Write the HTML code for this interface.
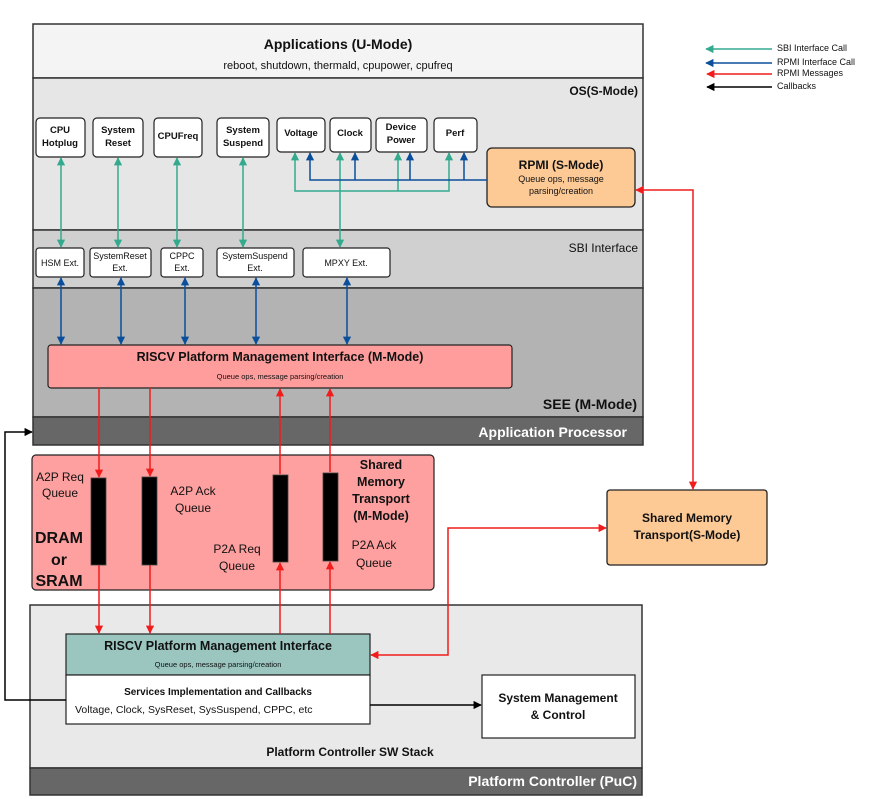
<!DOCTYPE html>
<html><head><meta charset="utf-8"><style>
html,body{margin:0;padding:0;background:#fff}
svg{display:block}
text{font-family:"Liberation Sans",sans-serif;fill:#111}
.b{font-weight:bold}
</style></head><body>
<svg width="871" height="799" viewBox="0 0 871 799" xmlns="http://www.w3.org/2000/svg">
<defs>
<marker id="tg" viewBox="0 0 10 10" refX="9" refY="5" markerWidth="6" markerHeight="5.5" orient="auto-start-reverse"><path d="M0,0L10,5L0,10z" fill="#33aa8e"/></marker>
<marker id="bl" viewBox="0 0 10 10" refX="9" refY="5" markerWidth="6" markerHeight="5.5" orient="auto-start-reverse"><path d="M0,0L10,5L0,10z" fill="#0b4f9c"/></marker>
<marker id="rd" viewBox="0 0 10 10" refX="9" refY="5" markerWidth="6" markerHeight="5.5" orient="auto-start-reverse"><path d="M0,0L10,5L0,10z" fill="#f21c1c"/></marker>
<marker id="bk" viewBox="0 0 10 10" refX="9" refY="5" markerWidth="6" markerHeight="5.5" orient="auto-start-reverse"><path d="M0,0L10,5L0,10z" fill="#000"/></marker>
</defs>

<rect x="33" y="24" width="610" height="54" fill="#f4f4f4" stroke="#333" stroke-width="1.5"/>
<rect x="33" y="78" width="610" height="152" fill="#e6e6e6" stroke="#333" stroke-width="1.5"/>
<rect x="33" y="230" width="610" height="58" fill="#d0d0d0" stroke="#333" stroke-width="1.5"/>
<rect x="33" y="288" width="610" height="129" fill="#b3b3b3" stroke="#333" stroke-width="1.5"/>
<rect x="33" y="417" width="610" height="28" fill="#676767" stroke="#333" stroke-width="1.5"/>
<text x="338" y="49" text-anchor="middle" font-size="14" style="font-weight:600">Applications (U-Mode)</text>
<text x="338" y="69" text-anchor="middle" font-size="11">reboot, shutdown, thermald, cpupower, cpufreq</text>
<text x="638" y="95" text-anchor="end" font-size="12" class="b">OS(S-Mode)</text>
<text x="638" y="252" text-anchor="end" font-size="12">SBI Interface</text>
<text x="637" y="409" text-anchor="end" font-size="14" class="b">SEE (M-Mode)</text>
<text x="627" y="437" text-anchor="end" font-size="14" class="b" style="fill:#fff">Application Processor</text>

<g stroke="#222" stroke-width="1.2" fill="#fff">
<rect x="36" y="118" width="49" height="39" rx="4"/>
<rect x="93" y="118" width="50" height="39" rx="4"/>
<rect x="154" y="118" width="48" height="39" rx="4"/>
<rect x="217" y="118" width="52" height="39" rx="4"/>
<rect x="277" y="118" width="48" height="34" rx="4"/>
<rect x="330" y="118" width="41" height="34" rx="4"/>
<rect x="376" y="118" width="51" height="34" rx="4"/>
<rect x="434" y="118" width="43" height="34" rx="4"/>
</g>
<g font-size="9.5" class="b" text-anchor="middle">
<text x="60" y="133">CPU</text><text x="60" y="146">Hotplug</text>
<text x="118" y="133">System</text><text x="118" y="146">Reset</text>
<text x="178" y="139">CPUFreq</text>
<text x="243" y="133">System</text><text x="243" y="146">Suspend</text>
<text x="301" y="136">Voltage</text>
<text x="350" y="136">Clock</text>
<text x="401" y="130">Device</text><text x="401" y="143">Power</text>
<text x="455" y="136">Perf</text>
</g>
<rect x="487" y="148" width="148" height="59" rx="5" fill="#fdca96" stroke="#222" stroke-width="1.3"/>
<text x="561" y="169" text-anchor="middle" font-size="12" class="b">RPMI (S-Mode)</text>
<text x="561" y="182" text-anchor="middle" font-size="9">Queue ops, message</text>
<text x="561" y="194" text-anchor="middle" font-size="9">parsing/creation</text>

<g stroke="#222" stroke-width="1.2" fill="#fff">
<rect x="36" y="248" width="48" height="29" rx="3"/>
<rect x="90" y="248" width="61" height="29" rx="3"/>
<rect x="161" y="248" width="42" height="29" rx="3"/>
<rect x="217" y="248" width="77" height="29" rx="3"/>
<rect x="303" y="248" width="87" height="29" rx="3"/>
</g>
<g font-size="9" text-anchor="middle">
<text x="60" y="266">HSM Ext.</text>
<text x="120" y="259">SystemReset</text><text x="120" y="271">Ext.</text>
<text x="182" y="259">CPPC</text><text x="182" y="271">Ext.</text>
<text x="255" y="259">SystemSuspend</text><text x="255" y="271">Ext.</text>
<text x="346" y="266">MPXY Ext.</text>
</g>

<g stroke="#33aa8e" stroke-width="1.5" fill="none">
<line x1="61" y1="158" x2="61" y2="247" marker-start="url(#tg)" marker-end="url(#tg)"/>
<line x1="118" y1="158" x2="118" y2="247" marker-start="url(#tg)" marker-end="url(#tg)"/>
<line x1="177" y1="158" x2="177" y2="247" marker-start="url(#tg)" marker-end="url(#tg)"/>
<line x1="243" y1="158" x2="243" y2="247" marker-start="url(#tg)" marker-end="url(#tg)"/>
<line x1="340" y1="153" x2="340" y2="247" marker-start="url(#tg)" marker-end="url(#tg)"/>
<polyline points="295,153 295,191 449,191 449,153" marker-start="url(#tg)" marker-end="url(#tg)"/>
<line x1="398" y1="191" x2="398" y2="153" marker-end="url(#tg)"/>
</g>
<g stroke="#0b4f9c" stroke-width="1.5" fill="none">
<polyline points="487,180 310,180 310,153" marker-end="url(#bl)"/>
<line x1="355" y1="180" x2="355" y2="153" marker-end="url(#bl)"/>
<line x1="410" y1="180" x2="410" y2="153" marker-end="url(#bl)"/>
<line x1="464" y1="180" x2="464" y2="153" marker-end="url(#bl)"/>
<line x1="61" y1="278" x2="61" y2="344" marker-start="url(#bl)" marker-end="url(#bl)"/>
<line x1="121" y1="278" x2="121" y2="344" marker-start="url(#bl)" marker-end="url(#bl)"/>
<line x1="185" y1="278" x2="185" y2="344" marker-start="url(#bl)" marker-end="url(#bl)"/>
<line x1="256" y1="278" x2="256" y2="344" marker-start="url(#bl)" marker-end="url(#bl)"/>
<line x1="347" y1="278" x2="347" y2="344" marker-start="url(#bl)" marker-end="url(#bl)"/>
</g>

<rect x="48" y="345" width="464" height="43" rx="3" fill="#ff9d9d" stroke="#222" stroke-width="1.2"/>
<text x="280" y="361" text-anchor="middle" font-size="12.5" class="b">RISCV Platform Management Interface (M-Mode)</text>
<text x="280" y="379" text-anchor="middle" font-size="7.5">Queue ops, message parsing/creation</text>

<rect x="32" y="455" width="402" height="135" rx="4" fill="#ffa0a0" stroke="#222" stroke-width="1.2"/>
<g fill="#000" stroke="#444" stroke-width="0.8">
<rect x="91" y="478" width="15" height="87"/>
<rect x="142" y="477" width="15" height="88"/>
<rect x="273" y="475" width="15" height="87"/>
<rect x="323" y="473" width="15" height="88"/>
</g>
<g font-size="12" text-anchor="middle">
<text x="60" y="481">A2P Req</text><text x="60" y="497">Queue</text>
<text x="193" y="495">A2P Ack</text><text x="193" y="512">Queue</text>
<text x="237" y="553">P2A Req</text><text x="237" y="570">Queue</text>
<text x="374" y="549">P2A Ack</text><text x="374" y="567">Queue</text>
</g>
<g font-size="12.5" class="b" text-anchor="middle">
<text x="381" y="469">Shared</text><text x="381" y="486">Memory</text><text x="381" y="503">Transport</text><text x="381" y="520">(M-Mode)</text>
</g>
<g font-size="16" class="b" text-anchor="middle">
<text x="59" y="543">DRAM</text><text x="59" y="565">or</text><text x="59" y="586">SRAM</text>
</g>

<rect x="607" y="490" width="160" height="75" rx="3" fill="#fdca96" stroke="#222" stroke-width="1.3"/>
<text x="687" y="522" text-anchor="middle" font-size="12" class="b">Shared Memory</text>
<text x="687" y="539" text-anchor="middle" font-size="12" class="b">Transport(S-Mode)</text>

<rect x="30" y="605" width="612" height="163" fill="#e9e9e9" stroke="#333" stroke-width="1.5"/>
<rect x="30" y="768" width="612" height="27" fill="#676767" stroke="#333" stroke-width="1.5"/>
<text x="637" y="786" text-anchor="end" font-size="14" class="b" style="fill:#fff">Platform Controller (PuC)</text>
<text x="350" y="756" text-anchor="middle" font-size="12" class="b">Platform Controller SW Stack</text>
<rect x="66" y="634" width="304" height="41" fill="#9ac6bf" stroke="#222" stroke-width="1.2"/>
<rect x="66" y="675" width="304" height="49" fill="#fff" stroke="#222" stroke-width="1.2"/>
<text x="218" y="650" text-anchor="middle" font-size="12.5" style="font-weight:600">RISCV Platform Management Interface</text>
<text x="218" y="667" text-anchor="middle" font-size="7.5">Queue ops, message parsing/creation</text>
<text x="218" y="695" text-anchor="middle" font-size="10" class="b">Services Implementation and Callbacks</text>
<text x="75" y="713" font-size="10.5">Voltage, Clock, SysReset, SysSuspend, CPPC, etc</text>
<rect x="482" y="675" width="153" height="63" fill="#fff" stroke="#222" stroke-width="1.2"/>
<text x="558" y="702" text-anchor="middle" font-size="12" class="b">System Management</text>
<text x="558" y="719" text-anchor="middle" font-size="12" class="b">&amp; Control</text>

<g stroke="#f21c1c" stroke-width="1.5" fill="none">
<line x1="99" y1="388" x2="99" y2="477" marker-end="url(#rd)"/>
<line x1="150" y1="388" x2="150" y2="476" marker-end="url(#rd)"/>
<line x1="280" y1="474" x2="280" y2="389" marker-end="url(#rd)"/>
<line x1="330" y1="472" x2="330" y2="389" marker-end="url(#rd)"/>
<line x1="99" y1="565" x2="99" y2="633" marker-end="url(#rd)"/>
<line x1="150" y1="565" x2="150" y2="633" marker-end="url(#rd)"/>
<line x1="280" y1="634" x2="280" y2="563" marker-end="url(#rd)"/>
<line x1="330" y1="634" x2="330" y2="562" marker-end="url(#rd)"/>
<polyline points="636,190 693,190 693,489" marker-start="url(#rd)" marker-end="url(#rd)"/>
<polyline points="606,528 448,528 448,655 371,655" marker-start="url(#rd)" marker-end="url(#rd)"/>
</g>
<g stroke="#000" stroke-width="1.5" fill="none">
<line x1="370" y1="705" x2="481" y2="705" marker-end="url(#bk)"/>
<polyline points="66,700 5,700 5,432 32,432" marker-end="url(#bk)"/>
</g>

<g stroke-width="1.5">
<line x1="772" y1="49" x2="706" y2="49" stroke="#33aa8e" marker-end="url(#tg)"/>
<line x1="772" y1="63" x2="706" y2="63" stroke="#0b4f9c" marker-end="url(#bl)"/>
<line x1="772" y1="74" x2="707" y2="74" stroke="#f21c1c" marker-end="url(#rd)"/>
<line x1="772" y1="87" x2="707" y2="87" stroke="#000" marker-end="url(#bk)"/>
</g>
<g font-size="9">
<text x="777" y="51">SBI Interface Call</text>
<text x="777" y="65">RPMI Interface Call</text>
<text x="777" y="76">RPMI Messages</text>
<text x="777" y="89">Callbacks</text>
</g>
</svg>
</body></html>
